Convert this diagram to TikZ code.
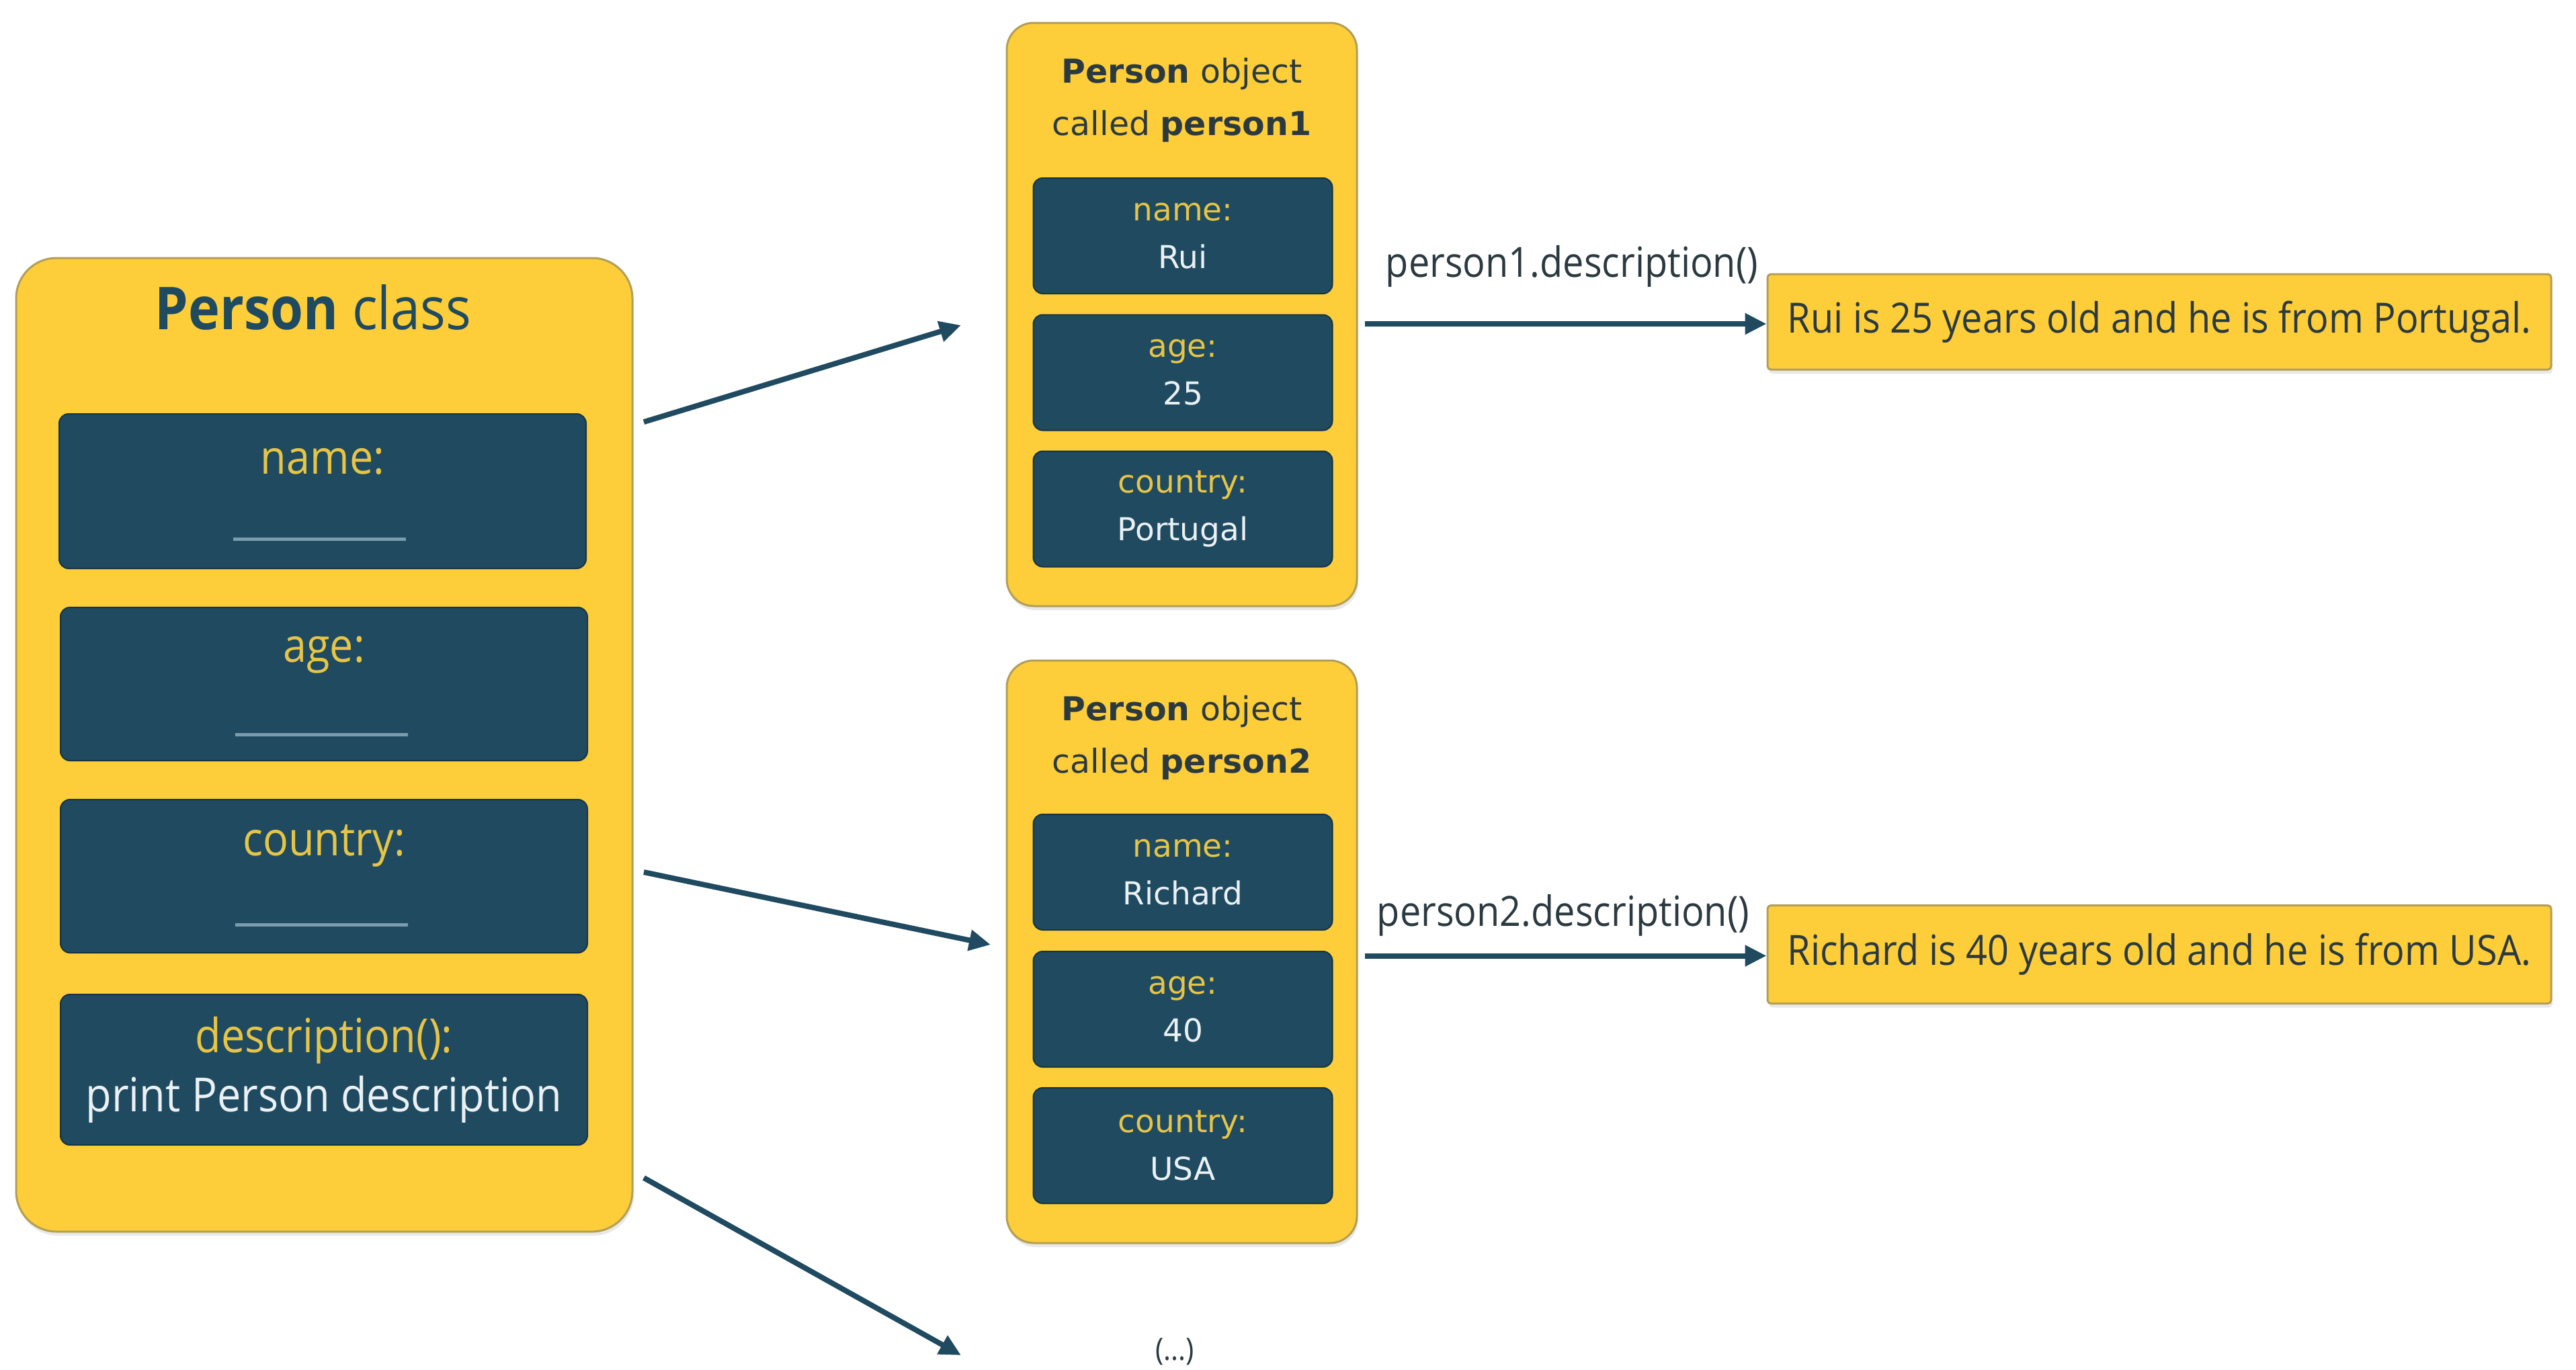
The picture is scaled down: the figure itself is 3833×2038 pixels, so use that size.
\documentclass[tikz,border=0pt]{standalone}
\usepackage{fontspec}
\setmainfont{Open Sans}
\newfontfamily\osc[FakeStretch=0.9]{Open Sans}
\newfontfamily\dvs{DejaVu Sans}
\usetikzlibrary{arrows.meta,shadows}
\definecolor{ylw}{HTML}{FDCE3A}
\definecolor{navy}{HTML}{1F4A60}
\definecolor{lbl}{HTML}{E6C446}
\definecolor{wht}{HTML}{EAF0F4}
\definecolor{edgec}{HTML}{B39E57}
\definecolor{uline}{HTML}{7B9BAE}
\definecolor{txt}{HTML}{2B3A40}
\begin{document}
\begin{tikzpicture}[x=1pt,y=-1pt,
  ybox/.style={draw=edgec, line width=3pt, fill=ylw, rounded corners=#1, inner sep=0pt,
    drop shadow={shadow xshift=2pt,shadow yshift=-6pt,opacity=0.18}},
  nbox/.style={draw=navy!70!black, line width=2pt, fill=navy, rounded corners=14pt, inner sep=0pt},
  clab/.style={text=lbl, font=\osc\fontsize{70}{88}\selectfont},
  olab/.style={font=\dvs\fontsize{47}{71}\selectfont, align=center},
  arr/.style={draw=navy, line width=8pt, -{Triangle[length=32pt,width=30pt]}},
  uln/.style={draw=uline, line width=5pt},
]
\useasboundingbox (0,0) rectangle (3833,2038);

% ---------- Person class ----------
\node[ybox=60pt, minimum width=917pt, minimum height=1449pt] (cls) at (482.5,1108.5) {};
\node[text=navy, font=\osc\fontsize{88}{90}\selectfont] (clstitle) at (466,457) {\textbf{Person} class};

\node[nbox, minimum width=784pt, minimum height=230pt] (fname) at (480,731) {};
\node[clab] (fnamel) at (480,687) {name:};
\coordinate (fnameu1) at (347,802); \coordinate (fnameu2) at (604,802);
\draw[uln] (fnameu1) -- (fnameu2);

\node[nbox, minimum width=784pt, minimum height=228pt] (fage) at (482,1018) {};
\node[clab] (fagel) at (482,975) {age:};
\coordinate (fageu1) at (350,1093); \coordinate (fageu2) at (607,1093);
\draw[uln] (fageu1) -- (fageu2);

\node[nbox, minimum width=784pt, minimum height=228pt] (fcountry) at (482,1304) {};
\node[clab] (fcountryl) at (482,1259) {country:};
\coordinate (fcountryu1) at (350,1376); \coordinate (fcountryu2) at (607,1376);
\draw[uln] (fcountryu1) -- (fcountryu2);

\node[nbox, minimum width=784pt, minimum height=224pt, align=center,
      font=\osc\fontsize{70}{88}\selectfont] (fdesc) at (482,1592)
  {\textcolor{lbl}{description():}\\\textcolor{wht}{print Person description}};

% ---------- Person object 1 ----------
\node[ybox=40pt, minimum width=521pt, minimum height=868pt] (obj1) at (1758.5,468) {};
\node[olab, text=txt, font=\dvs\fontsize{49}{78}\selectfont] (obj1t) at (1758.5,149)
  {\textbf{Person} object\\called \textbf{person1}};
\node[nbox, minimum width=445pt, minimum height=172pt, olab] (o1name) at (1760,351)
  {\textcolor{lbl}{name:}\\\textcolor{wht}{Rui}};
\node[nbox, minimum width=445pt, minimum height=172pt, olab] (o1age) at (1760,554.5)
  {\textcolor{lbl}{age:}\\\textcolor{wht}{25}};
\node[nbox, minimum width=445pt, minimum height=172pt, olab] (o1country) at (1760,757.5)
  {\textcolor{lbl}{country:}\\\textcolor{wht}{Portugal}};

% ---------- Person object 2 ----------
\node[ybox=40pt, minimum width=521pt, minimum height=867pt] (obj2) at (1758.5,1416.5) {};
\node[olab, text=txt, font=\dvs\fontsize{49}{78}\selectfont] (obj2t) at (1758.5,1097.5)
  {\textbf{Person} object\\called \textbf{person2}};
\node[nbox, minimum width=445pt, minimum height=172pt, olab] (o2name) at (1760,1298)
  {\textcolor{lbl}{name:}\\\textcolor{wht}{Richard}};
\node[nbox, minimum width=445pt, minimum height=172pt, olab] (o2age) at (1760,1502)
  {\textcolor{lbl}{age:}\\\textcolor{wht}{40}};
\node[nbox, minimum width=445pt, minimum height=172pt, olab] (o2country) at (1760,1705)
  {\textcolor{lbl}{country:}\\\textcolor{wht}{USA}};

% ---------- outputs ----------
\node[ybox=5pt, minimum width=1166pt, minimum height=142pt, text=txt,
      font=\osc\fontsize{62}{70}\selectfont] (out1) at (3213,479)
  {Rui is 25 years old and he is from Portugal.};
\node[ybox=5pt, minimum width=1166pt, minimum height=146pt, text=txt,
      font=\osc\fontsize{62}{70}\selectfont] (out2) at (3213,1420.5)
  {Richard is 40 years old and he is from USA.};

\node[text=txt, font=\osc\fontsize{62}{70}\selectfont] (call1) at (2339,396) {person1.description()};
\node[text=txt, font=\osc\fontsize{62}{70}\selectfont] (call2) at (2326,1362) {person2.description()};

\node[text=txt, font=\osc\fontsize{46}{50}\selectfont] (more) at (1748,2012) {(...)};

% ---------- connectors ----------
\draw[arr] (obj1.east |- out1) ++(10,3) coordinate (c1s) -- (out1.west |- c1s);
\draw[arr] (obj2.east |- out2) ++(10,2) coordinate (c2s) -- (out2.west |- c2s);

\coordinate (a1s) at (958,628);  \coordinate (a1e) at (1430,484);
\coordinate (a2s) at (958,1298); \coordinate (a2e) at (1474,1406);
\coordinate (a3s) at (958,1753); \coordinate (a3e) at (1430,2017);
\draw[arr] (a1s) -- (a1e);
\draw[arr] (a2s) -- (a2e);
\draw[arr] (a3s) -- (a3e);
\end{tikzpicture}
\end{document}
